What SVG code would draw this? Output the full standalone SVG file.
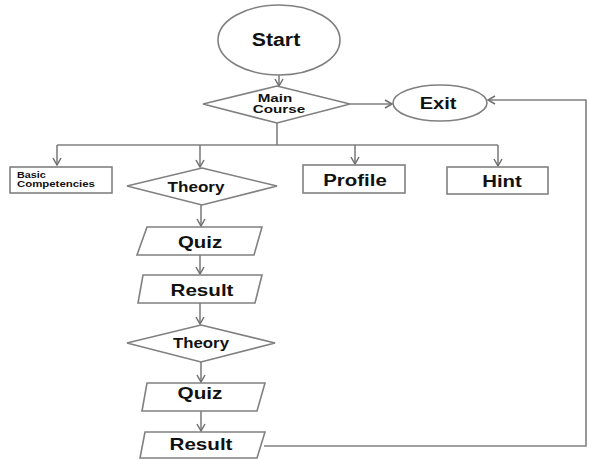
<svg xmlns="http://www.w3.org/2000/svg" width="589" height="460" viewBox="0 0 589 460">
<style>
.s{fill:#fff;stroke:#808080;stroke-width:1.6}
.c{fill:none;stroke:#808080;stroke-width:1.6}
text{font-family:"Liberation Sans",Arial,sans-serif;font-weight:bold;fill:#111;text-anchor:middle}
</style>
<defs>
<marker id="a" markerWidth="10" markerHeight="10" refX="8" refY="5" orient="auto" markerUnits="userSpaceOnUse">
<path d="M1,1 L8,5 L1,9" fill="none" stroke="#707070" stroke-width="1.5"/>
</marker>
</defs>
<rect width="589" height="460" fill="#fff"/>
<g id="connectors">
<line class="c" x1="279" y1="75" x2="279" y2="86" marker-end="url(#a)"/>
<line class="c" x1="350" y1="104" x2="392" y2="104" marker-end="url(#a)"/>
<polyline class="c" points="264,446 586,446 586,100 488,100" marker-end="url(#a)"/>
<polyline class="c" points="277,123 277,145"/>
<line class="c" x1="57" y1="145" x2="498" y2="145"/>
<line class="c" x1="57" y1="145" x2="57" y2="165" marker-end="url(#a)"/>
<line class="c" x1="200" y1="145" x2="200" y2="167" marker-end="url(#a)"/>
<line class="c" x1="355" y1="145" x2="355" y2="164" marker-end="url(#a)"/>
<line class="c" x1="498" y1="145" x2="498" y2="166" marker-end="url(#a)"/>
<line class="c" x1="201" y1="205" x2="201" y2="226" marker-end="url(#a)"/>
<line class="c" x1="200" y1="255" x2="200" y2="274" marker-end="url(#a)"/>
<line class="c" x1="200" y1="303" x2="200" y2="324" marker-end="url(#a)"/>
<line class="c" x1="201" y1="362" x2="201" y2="382" marker-end="url(#a)"/>
<line class="c" x1="201" y1="411" x2="201" y2="431" marker-end="url(#a)"/>
</g>
<g id="start">
<ellipse class="s" cx="279" cy="40" rx="61" ry="35"/>
<text transform="translate(276,46) scale(1.15,1)" font-size="18.5">Start</text>
</g>
<g id="main">
<polygon class="s" points="277,86 350,104 277,123 203,104"/>
<text transform="translate(275,102) scale(1.45,1)" font-size="10.5">Main</text>
<text transform="translate(279,112.5) scale(1.45,1)" font-size="10.5">Course</text>
</g>
<g id="exit">
<ellipse class="s" cx="440" cy="103" rx="47" ry="18"/>
<text transform="translate(438,109) scale(1.18,1)" font-size="17">Exit</text>
</g>
<g id="basic">
<rect class="s" x="10" y="167" width="102" height="26"/>
<text transform="translate(17,178) scale(1.2,1)" font-size="9" style="text-anchor:start">Basic</text>
<text transform="translate(17,187) scale(1.2,1)" font-size="9.5" style="text-anchor:start">Competencies</text>
</g>
<g id="theory1">
<polygon class="s" points="202,168 277,186 202,205 127,186"/>
<text transform="translate(196,192) scale(1.1,1)" font-size="15.5">Theory</text>
</g>
<g id="profile">
<rect class="s" x="303" y="165" width="102" height="28"/>
<text transform="translate(355,186) scale(1.2,1)" font-size="17">Profile</text>
</g>
<g id="hint">
<rect class="s" x="447" y="167" width="101" height="27"/>
<text transform="translate(502,187) scale(1.2,1)" font-size="17">Hint</text>
</g>
<g id="quiz1">
<polygon class="s" points="147,227 262,227 254,255 137,255"/>
<text transform="translate(200,248) scale(1.2,1)" font-size="17">Quiz</text>
</g>
<g id="result1">
<polygon class="s" points="143,275 262,275 255,303 138,303"/>
<text transform="translate(202,296) scale(1.25,1)" font-size="16.5">Result</text>
</g>
<g id="theory2">
<polygon class="s" points="201,325 275,343 201,362 127,343"/>
<text transform="translate(201,348) scale(1.12,1)" font-size="15">Theory</text>
</g>
<g id="quiz2">
<polygon class="s" points="147,383 265,383 257,411 142,411"/>
<text transform="translate(200,399) scale(1.22,1)" font-size="17">Quiz</text>
</g>
<g id="result2">
<polygon class="s" points="145,432 265,432 257,458 140,458"/>
<text transform="translate(201,450) scale(1.25,1)" font-size="16.5">Result</text>
</g>
</svg>
